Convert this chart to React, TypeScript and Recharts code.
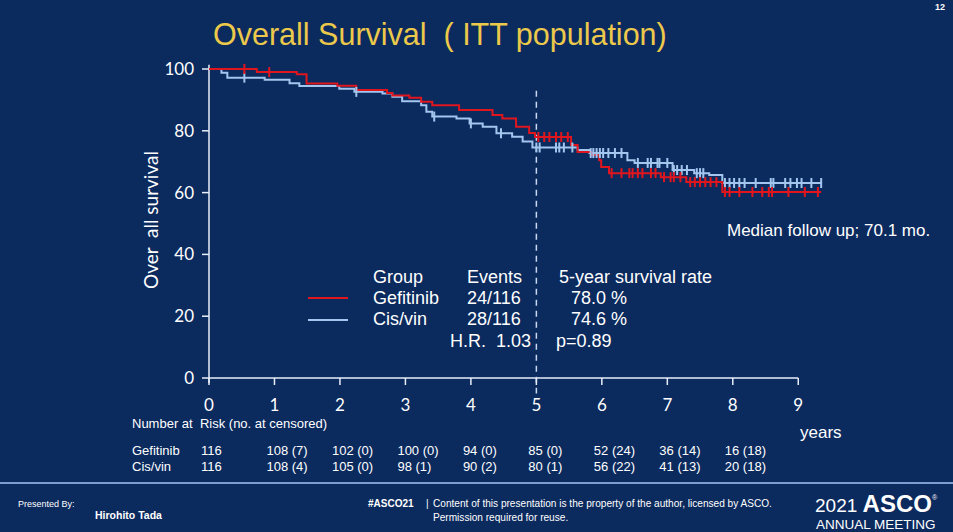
import React from "react";
import { ComposedChart, Line, Scatter, XAxis, YAxis, ReferenceLine } from "recharts";

// ---- data ----
const gefitinibT = [0, 0.73, 1.34, 1.49, 1.96, 2.25, 2.72, 2.8, 3.06, 3.24, 3.41, 3.82, 4.33, 4.48, 4.69, 4.89, 4.98, 5.53, 5.63, 5.84, 5.96, 5.99, 6.11, 6.9, 7.29, 7.84, 9.35];
const gefitinibS = [100, 99.0, 98.3, 95.3, 94.6, 93.2, 92.2, 91.4, 90.7, 89.4, 88.3, 86.7, 85.1, 84.0, 81.3, 79.3, 78.0, 75.4, 73.1, 72.2, 70.5, 68.3, 66.3, 65.0, 63.4, 60.2, 60.2];
const cisvinT = [0, 0.19, 0.28, 0.85, 1.23, 1.38, 1.99, 2.22, 2.65, 2.8, 2.95, 3.24, 3.32, 3.41, 3.78, 3.98, 4.18, 4.39, 4.63, 4.79, 4.94, 5.63, 5.81, 6.39, 6.5, 7.08, 7.41, 7.64, 7.84, 9.35];
const cisvinS = [100, 98.8, 97.2, 96.5, 95.4, 94.5, 93.6, 92.6, 92.1, 91.0, 89.6, 88.3, 86.2, 84.6, 84.0, 82.4, 81.3, 79.2, 78.1, 76.5, 74.6, 73.8, 72.8, 70.5, 69.6, 67.3, 66.3, 65.7, 63.1, 63.1];

const gefitinibCensorT = [0.54, 0.92, 5.03, 5.12, 5.2, 5.3, 5.38, 5.48, 6.15, 6.3, 6.42, 6.47, 6.55, 6.62, 6.75, 6.82, 6.95, 7.05, 7.1, 7.2, 7.35, 7.42, 7.5, 7.58, 7.66, 7.75, 7.88, 7.95, 8.1, 8.3, 8.45, 8.55, 8.6, 8.85, 9.1, 9.3];
const gefitinibCensorS = [100, 99.0, 78, 78, 78, 78, 78, 78, 66.3, 66.3, 66.3, 66.3, 66.3, 66.3, 66.3, 66.3, 65, 65, 65, 65, 63.4, 63.4, 63.4, 63.4, 63.4, 63.4, 60.2, 60.2, 60.2, 60.2, 60.2, 60.2, 60.2, 60.2, 60.2, 60.2];
const cisvinCensorT = [0.54, 2.25, 3.44, 4.0, 4.46, 5.0, 5.05, 5.3, 5.35, 5.42, 5.55, 5.83, 5.87, 5.92, 5.97, 6.02, 6.1, 6.2, 6.3, 6.55, 6.7, 6.75, 6.85, 6.88, 7.0, 7.1, 7.15, 7.22, 7.3, 7.45, 7.5, 7.55, 7.88, 7.95, 8.02, 8.1, 8.18, 8.35, 8.58, 8.62, 8.8, 8.88, 8.98, 9.05, 9.2, 9.35];
const cisvinCensorS = [97.2, 92.6, 84.6, 82.4, 79.2, 74.6, 74.6, 74.6, 74.6, 74.6, 74.6, 72.8, 72.8, 72.8, 72.8, 72.8, 72.8, 72.8, 72.8, 69.6, 69.6, 69.6, 69.6, 69.6, 69.6, 67.3, 67.3, 67.3, 67.3, 66.3, 66.3, 66.3, 63.1, 63.1, 63.1, 63.1, 63.1, 63.1, 63.1, 63.1, 63.1, 63.1, 63.1, 63.1, 63.1, 63.1];

const xTicks = [0, 1, 2, 3, 4, 5, 6, 7, 8, 9];
const yTicks = [0, 20, 40, 60, 80, 100];
const riskGefitinib = ["116", "108 (7)", "102 (0)", "100 (0)", "94 (0)", "85 (0)", "52 (24)", "36 (14)", "16 (18)"];
const riskCisvin = ["116", "108 (4)", "105 (0)", "98 (1)", "90 (2)", "80 (1)", "56 (22)", "41 (13)", "20 (18)"];

const zip = (t: number[], s: number[]) => t.map((v, i) => ({ t: v, s: s[i] }));
const gefData = zip(gefitinibT, gefitinibS);
const cisData = zip(cisvinT, cisvinS);
const gefCensor = zip(gefitinibCensorT, gefitinibCensorS);
const cisCensor = zip(cisvinCensorT, cisvinCensorS);

const BG = "#0b2a5e";
const RED = "#e0161f";
const BLUE = "#a3c6ee";
const AXIS = "#e8eef8";
const CAL = "Lato, 'Open Sans', sans-serif";
const ARIAL = "'Liberation Sans', Arial, sans-serif";
const NARROW = "'Liberation Sans Narrow', 'Liberation Sans', Arial, sans-serif";

const tickShape = (color: string) => (props: any) => {
  const { cx, cy } = props;
  if (cx == null || cy == null) return <g />;
  return <line x1={cx} x2={cx} y1={cy - 5} y2={cy + 5} stroke={color} strokeWidth={2} />;
};

const XTick = (props: any) => {
  const { x, y, payload } = props;
  const i = xTicks.indexOf(payload.value);
  return (
    <g>
      <text x={x} y={y + 24} textAnchor="middle" fill="#ffffff" fontSize={17} fontFamily={CAL}>
        {payload.value}
      </text>
      {i >= 0 && i < riskGefitinib.length && (
        <text x={x - 8} y={y + 68} textAnchor="start" fill="#ffffff" fontSize={13} fontFamily={NARROW}>
          {riskGefitinib[i]}
        </text>
      )}
      {i >= 0 && i < riskCisvin.length && (
        <text x={x - 8} y={y + 84} textAnchor="start" fill="#ffffff" fontSize={13} fontFamily={NARROW}>
          {riskCisvin[i]}
        </text>
      )}
    </g>
  );
};

const abs = (x: number, y: number, extra: React.CSSProperties = {}): React.CSSProperties => ({
  position: "absolute",
  left: x,
  top: y,
  whiteSpace: "nowrap",
  lineHeight: 1,
  ...extra,
});

export default function App() {
  return (
    <div style={{ position: "absolute", left: 0, top: 0, width: 953, height: 532, background: BG, overflow: "hidden", fontFamily: ARIAL }}>
      <ComposedChart width={953} height={532} margin={{ top: 69, right: 122, bottom: 124, left: 139 }}>
        <XAxis
          dataKey="t"
          type="number"
          domain={[0, 9.5]}
          ticks={xTicks}
          height={30}
          axisLine={false}
          tickLine={{ stroke: AXIS, strokeWidth: 1.5 }}
          tickSize={7}
          tick={<XTick />}
          interval={0}
          allowDataOverflow
        />
        <YAxis
          type="number"
          domain={[0, 100]}
          ticks={yTicks}
          width={70}
          axisLine={false}
          tickLine={{ stroke: AXIS, strokeWidth: 1.5 }}
          tickSize={7}
          tickMargin={8}
          tick={{ fill: "#ffffff", fontSize: 17, fontFamily: CAL }}
          interval={0}
        />
        <ReferenceLine segment={[{ x: 0, y: -1.6 }, { x: 0, y: 101.4 }]} stroke={AXIS} strokeWidth={1.5} ifOverflow="visible" />
        <ReferenceLine segment={[{ x: 0, y: 0 }, { x: 9, y: 0 }]} stroke={AXIS} strokeWidth={1.5} ifOverflow="visible" />
        <ReferenceLine
          segment={[{ x: 5, y: 93 }, { x: 5, y: -5 }]}
          stroke="#c9d8f0"
          strokeWidth={1.5}
          strokeDasharray="6 5"
          ifOverflow="visible"
        />
        <Line data={cisData} dataKey="s" type="stepAfter" stroke={BLUE} strokeWidth={2} dot={false} isAnimationActive={false} />
        <Line data={gefData} dataKey="s" type="stepAfter" stroke={RED} strokeWidth={2} dot={false} isAnimationActive={false} />
        <Scatter data={cisCensor} dataKey="s" shape={tickShape(BLUE)} isAnimationActive={false} />
        <Scatter data={gefCensor} dataKey="s" shape={tickShape(RED)} isAnimationActive={false} />
      </ComposedChart>

      {/* title */}
      <div style={abs(213, 19, { color: "#ecc94b", fontSize: 30.5, fontFamily: ARIAL })}>Overall Survival&nbsp;&nbsp;( ITT population)</div>
      <div style={abs(935, 3, { color: "#ffffff", fontSize: 9, fontWeight: "bold" })}>12</div>

      {/* y label */}
      <div
        style={abs(150, 220, {
          color: "#ffffff",
          fontSize: 19,
          fontFamily: CAL,
          transform: "translate(-50%, -50%) rotate(-90deg)",
        })}
      >
        Over&nbsp;&nbsp;all survival
      </div>

      {/* legend block */}
      <div style={abs(373, 268, { color: "#fff", fontSize: 18 })}>Group</div>
      <div style={abs(467, 268, { color: "#fff", fontSize: 18 })}>Events</div>
      <div style={abs(559, 268, { color: "#fff", fontSize: 18 })}>5-year survival rate</div>
      <div style={abs(308, 297, { width: 40, height: 2, background: RED })} />
      <div style={abs(373, 289, { color: "#fff", fontSize: 18 })}>Gefitinib</div>
      <div style={abs(467, 289, { color: "#fff", fontSize: 18 })}>24/116</div>
      <div style={abs(571, 289, { color: "#fff", fontSize: 18 })}>78.0 %</div>
      <div style={abs(308, 319, { width: 40, height: 2, background: BLUE })} />
      <div style={abs(373, 310, { color: "#fff", fontSize: 18 })}>Cis/vin</div>
      <div style={abs(467, 310, { color: "#fff", fontSize: 18 })}>28/116</div>
      <div style={abs(571, 310, { color: "#fff", fontSize: 18 })}>74.6 %</div>
      <div style={abs(450, 332, { color: "#fff", fontSize: 18 })}>H.R.&nbsp;&nbsp;1.03</div>
      <div style={abs(556, 332, { color: "#fff", fontSize: 18 })}>p=0.89</div>

      <div style={abs(727, 222, { color: "#fff", fontSize: 17 })}>Median follow up; 70.1 mo.</div>

      {/* risk table labels */}
      <div style={abs(132, 417, { color: "#fff", fontSize: 13, fontFamily: NARROW })}>Number at&nbsp;&nbsp;Risk (no. at censored)</div>
      <div style={abs(132, 444, { color: "#fff", fontSize: 13, fontFamily: NARROW })}>Gefitinib</div>
      <div style={abs(132, 460, { color: "#fff", fontSize: 13, fontFamily: NARROW })}>Cis/vin</div>
      <div style={abs(800, 424, { color: "#fff", fontSize: 17, fontFamily: NARROW })}>years</div>

      {/* footer */}
      <div style={abs(0, 482, { width: 953, height: 2, background: "#7d9cd0" })} />
      <div style={abs(18, 500, { color: "#fff", fontSize: 9, fontFamily: NARROW })}>Presented By:</div>
      <div style={abs(95, 510, { color: "#fff", fontSize: 10.5, fontWeight: "bold", fontFamily: NARROW })}>Hirohito Tada</div>
      <div style={abs(368, 499, { color: "#fff", fontSize: 10, fontWeight: "bold", fontFamily: ARIAL })}>#ASCO21</div>
      <div style={abs(426, 499, { color: "#fff", fontSize: 10, fontFamily: NARROW })}>|</div>
      <div style={abs(433, 499, { color: "#fff", fontSize: 10.1, fontFamily: NARROW })}>
        Content of this presentation is the property of the author, licensed by ASCO.
      </div>
      <div style={abs(433, 513, { color: "#fff", fontSize: 10.1, fontFamily: NARROW })}>Permission required for reuse.</div>
      <div style={abs(815, 493, { color: "#fff", fontFamily: ARIAL, height: 22, lineHeight: "22px" })}>
        <span style={{ fontSize: 19 }}>2021 </span>
        <span style={{ fontSize: 24, fontWeight: "bold" }}>ASCO</span>
        <span style={{ fontSize: 7, verticalAlign: "top", lineHeight: "10px" }}>®</span>
      </div>
      <div style={abs(816, 518, { color: "#fff", fontSize: 13.5, fontFamily: ARIAL })}>ANNUAL MEETING</div>
    </div>
  );
}
